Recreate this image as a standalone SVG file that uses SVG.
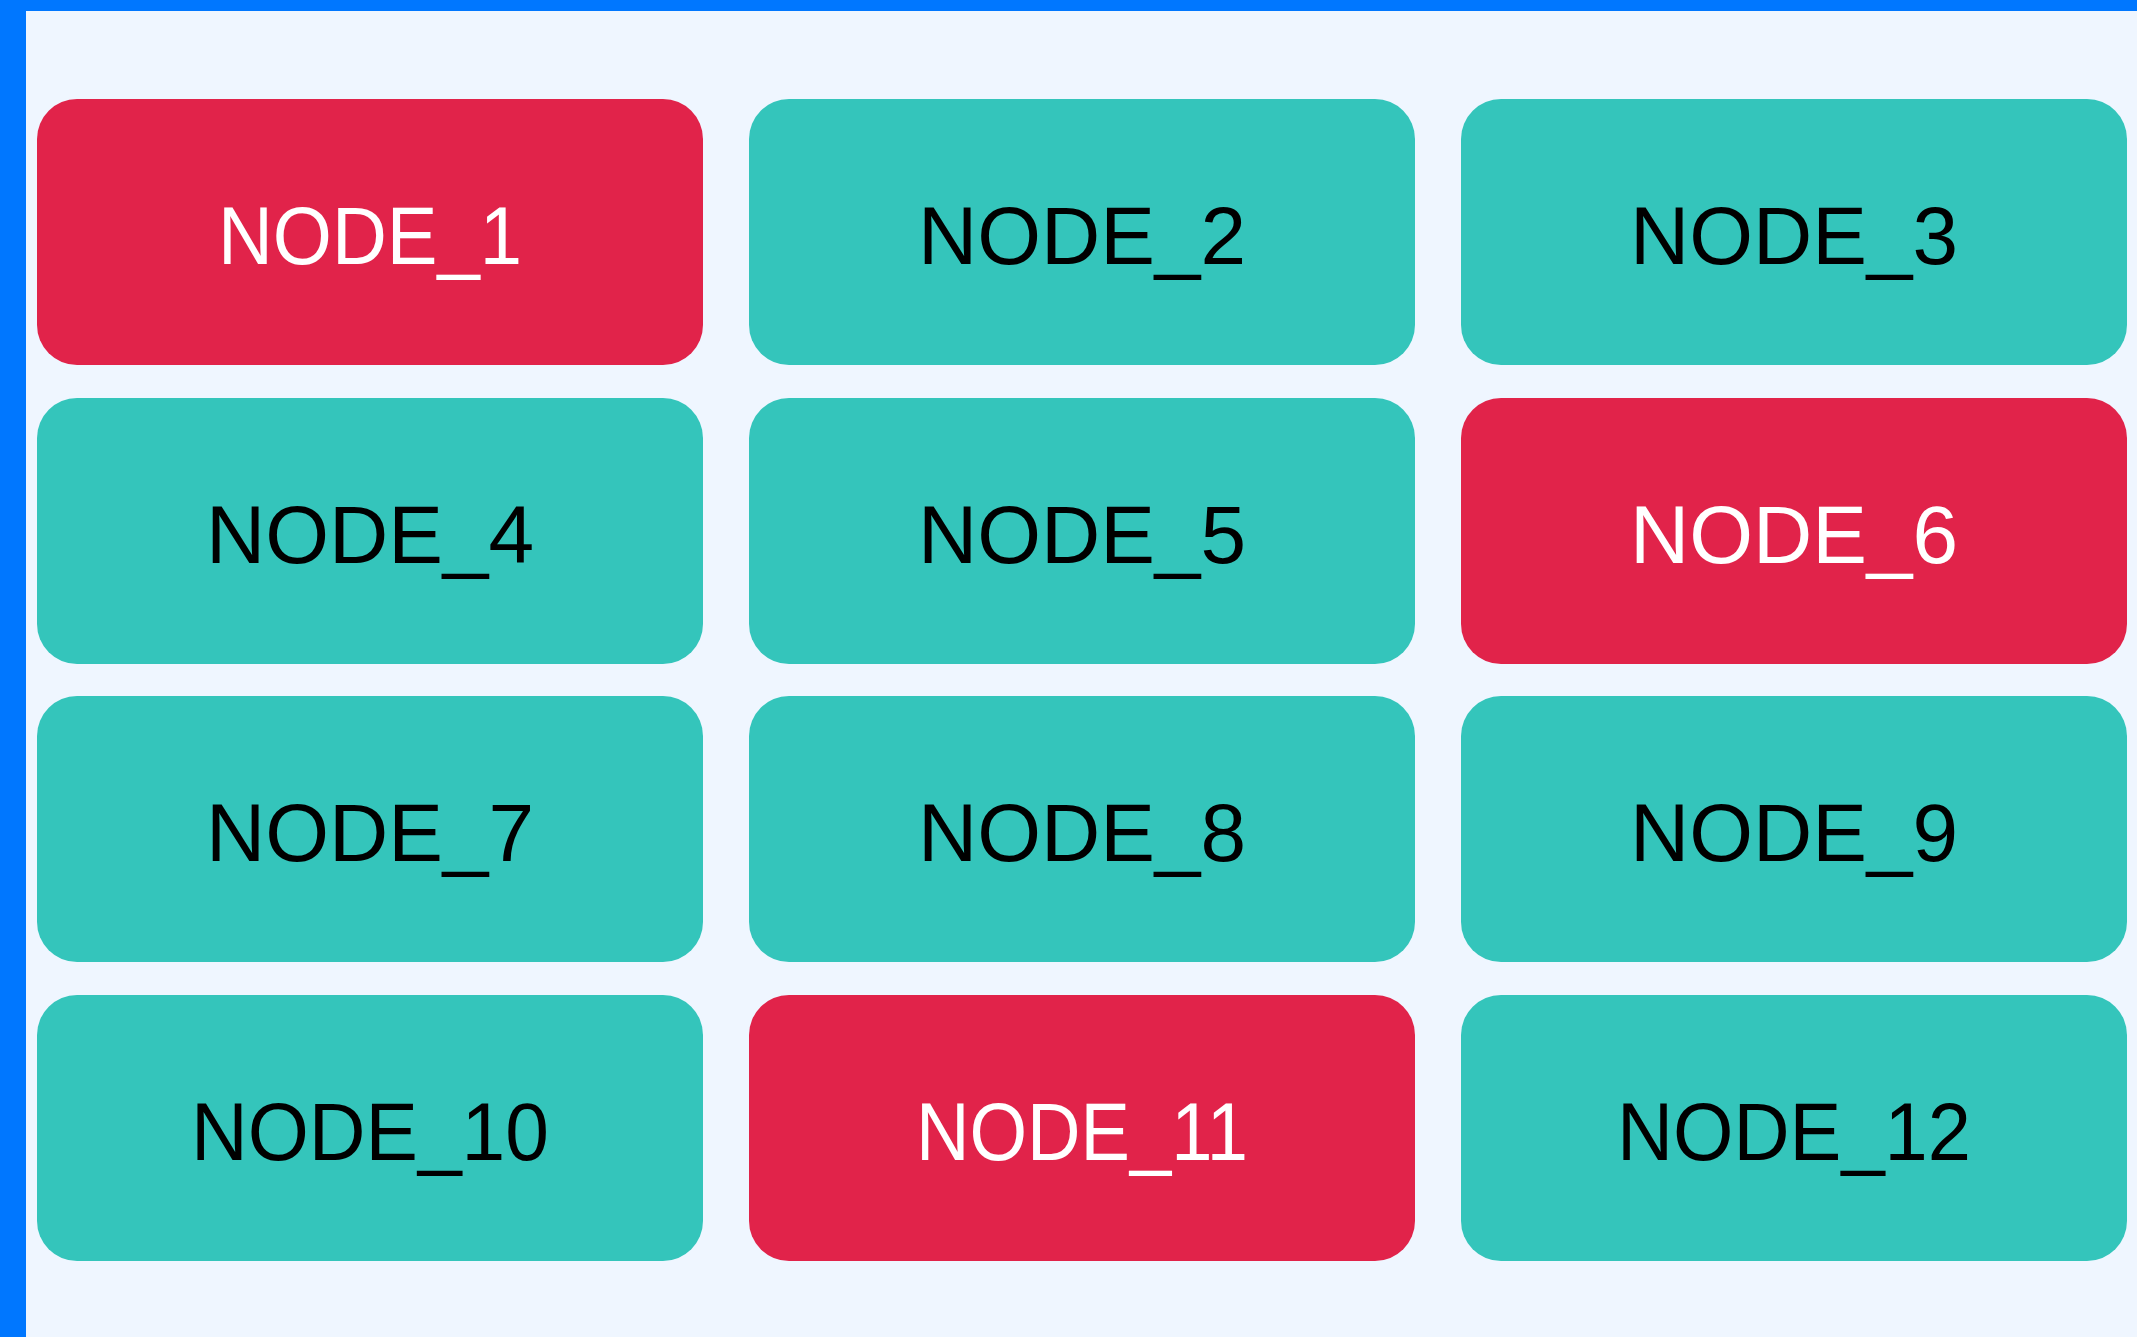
<svg xmlns="http://www.w3.org/2000/svg" width="2137" height="1337" viewBox="0 0 2137 1337">
<style>
.n rect{stroke:none}
.hot rect{fill:#E1234A}
.ok rect{fill:#34C5BB}
.n text{font-family:"Liberation Sans",Arial,sans-serif;font-size:82px;text-anchor:middle}
.hot text{fill:#FFFFFF}
.ok text{fill:#000000}
</style>
<rect x="0" y="0" width="2137" height="1337" fill="#EFF6FF"/>
<rect x="0" y="0" width="2137" height="11" fill="#0077FF"/>
<rect x="0" y="0" width="26" height="1337" fill="#0077FF"/>
<g id="connectors"></g>
<g id="node_1" class="n hot"><rect x="37" y="99" width="666" height="266" rx="40"/><text x="370" y="264" textLength="304" lengthAdjust="spacingAndGlyphs">NODE_1</text></g>
<g id="node_2" class="n ok"><rect x="749" y="99" width="666" height="266" rx="40"/><text x="1082" y="264">NODE_2</text></g>
<g id="node_3" class="n ok"><rect x="1461" y="99" width="666" height="266" rx="40"/><text x="1794" y="264">NODE_3</text></g>
<g id="node_4" class="n ok"><rect x="37" y="398" width="666" height="266" rx="40"/><text x="370" y="563">NODE_4</text></g>
<g id="node_5" class="n ok"><rect x="749" y="398" width="666" height="266" rx="40"/><text x="1082" y="563">NODE_5</text></g>
<g id="node_6" class="n hot"><rect x="1461" y="398" width="666" height="266" rx="40"/><text x="1794" y="563">NODE_6</text></g>
<g id="node_7" class="n ok"><rect x="37" y="696" width="666" height="266" rx="40"/><text x="370" y="861">NODE_7</text></g>
<g id="node_8" class="n ok"><rect x="749" y="696" width="666" height="266" rx="40"/><text x="1082" y="861">NODE_8</text></g>
<g id="node_9" class="n ok"><rect x="1461" y="696" width="666" height="266" rx="40"/><text x="1794" y="861">NODE_9</text></g>
<g id="node_10" class="n ok"><rect x="37" y="995" width="666" height="266" rx="40"/><text x="370" y="1160" textLength="358" lengthAdjust="spacingAndGlyphs">NODE_10</text></g>
<g id="node_11" class="n hot"><rect x="749" y="995" width="666" height="266" rx="40"/><text x="1082" y="1160" textLength="332" lengthAdjust="spacingAndGlyphs">NODE_11</text></g>
<g id="node_12" class="n ok"><rect x="1461" y="995" width="666" height="266" rx="40"/><text x="1794" y="1160" textLength="354" lengthAdjust="spacingAndGlyphs">NODE_12</text></g>
</svg>
